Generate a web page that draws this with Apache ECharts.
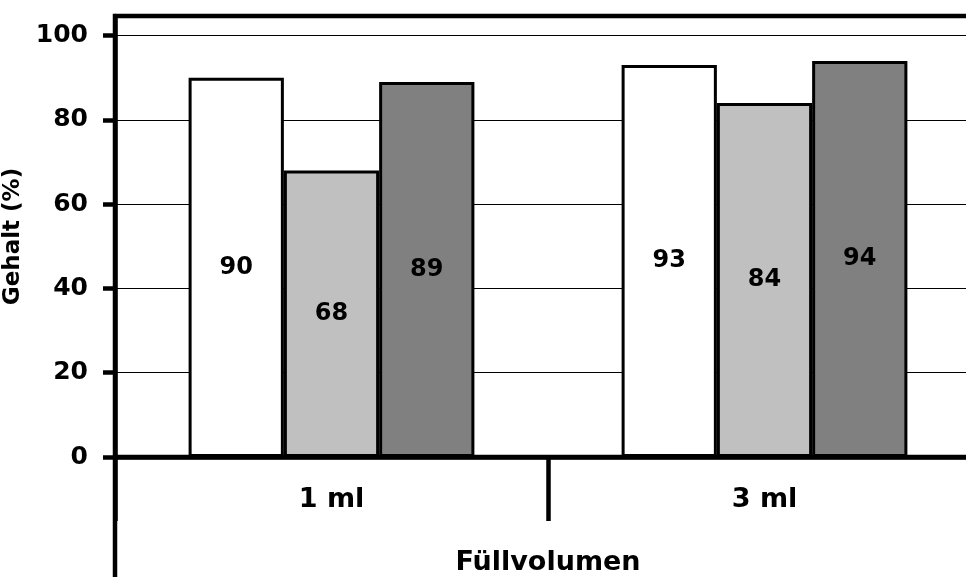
<!DOCTYPE html>
<html>
<head>
<meta charset="utf-8">
<script src="https://cdn.jsdelivr.net/npm/echarts@6/dist/echarts.min.js"></script>
<style>
  html, body { margin: 0; padding: 0; background: #fff; }
  #chart { width: 966px; height: 577px; }
</style>
</head>
<body>
<div id="chart"></div>
<script>
// Füllvolumen categories and the three measured series (Gehalt in %)
const categories = ['1 ml', '3 ml'];
const seriesA = [90, 93];
const seriesB = [68, 84];
const seriesC = [89, 94];
const yTicks = [0, 20, 40, 60, 80, 100];

const FONT = '"DejaVu Sans", "Liberation Sans", Arial, sans-serif';
const fills = ['#ffffff', '#c0c0c0', '#808080'];
const HEAVY = 4.5;

const chart = echarts.init(document.getElementById('chart'), null, { renderer: 'canvas' });

function barSeries(data, color) {
  return {
    type: 'bar',
    data: data,
    barGap: '0%',
    barCategoryGap: '34%',
    itemStyle: { color: color, borderColor: '#000', borderWidth: 3 },
    label: {
      show: true,
      position: 'inside',
      color: '#000',
      fontFamily: FONT,
      fontWeight: 'bold',
      fontSize: 24
    },
    silent: true
  };
}

chart.setOption({
  animation: false,
  backgroundColor: '#fff',
  grid: {
    left: 115, top: 16, width: 866, height: 441,
    outerBoundsMode: 'none',
    containLabel: false,
    show: true, borderColor: '#000', borderWidth: HEAVY
  },
  xAxis: {
    type: 'category',
    data: categories,
    axisLine: { lineStyle: { color: '#000', width: HEAVY } },
    axisTick: { show: true, length: 64, lineStyle: { color: '#000', width: HEAVY } },
    axisLabel: {
      color: '#000', fontFamily: FONT, fontWeight: 'bold', fontSize: 27, margin: 29
    },
    name: 'Füllvolumen',
    nameLocation: 'middle',
    nameGap: 92,
    nameTextStyle: { color: '#000', fontFamily: FONT, fontWeight: 'bold', fontSize: 27 }
  },
  yAxis: {
    type: 'value',
    min: yTicks[0],
    max: 104.65,
    interval: yTicks[1] - yTicks[0],
    axisLine: { show: true, lineStyle: { color: '#000', width: HEAVY } },
    axisTick: { show: true, length: 12, lineStyle: { color: '#000', width: HEAVY } },
    axisLabel: {
      color: '#000', fontFamily: FONT, fontWeight: 'bold', fontSize: 25, margin: 27,
      showMaxLabel: false,
      formatter: v => (yTicks.indexOf(v) >= 0 ? String(v) : '')
    },
    splitLine: { show: true, lineStyle: { color: '#000', width: 1 } },
    name: 'Gehalt (%)',
    nameLocation: 'middle',
    nameGap: 78,
    nameTextStyle: { color: '#000', fontFamily: FONT, fontWeight: 'bold', fontSize: 23 }
  },
  series: [
    barSeries(seriesA, fills[0]),
    barSeries(seriesB, fills[1]),
    barSeries(seriesC, fills[2])
  ]
});

// Extend the left frame line down to the bottom edge, below the category axis
const origin = chart.convertToPixel({ gridIndex: 0 }, [0, 0]);
const gridRect = chart.getModel().getComponent('grid', 0).coordinateSystem.getRect();
chart.setOption({
  graphic: [{
    type: 'line',
    shape: { x1: gridRect.x, y1: origin[1], x2: gridRect.x, y2: 577 },
    style: { stroke: '#000', lineWidth: HEAVY },
    silent: true
  }]
});
</script>
</body>
</html>
